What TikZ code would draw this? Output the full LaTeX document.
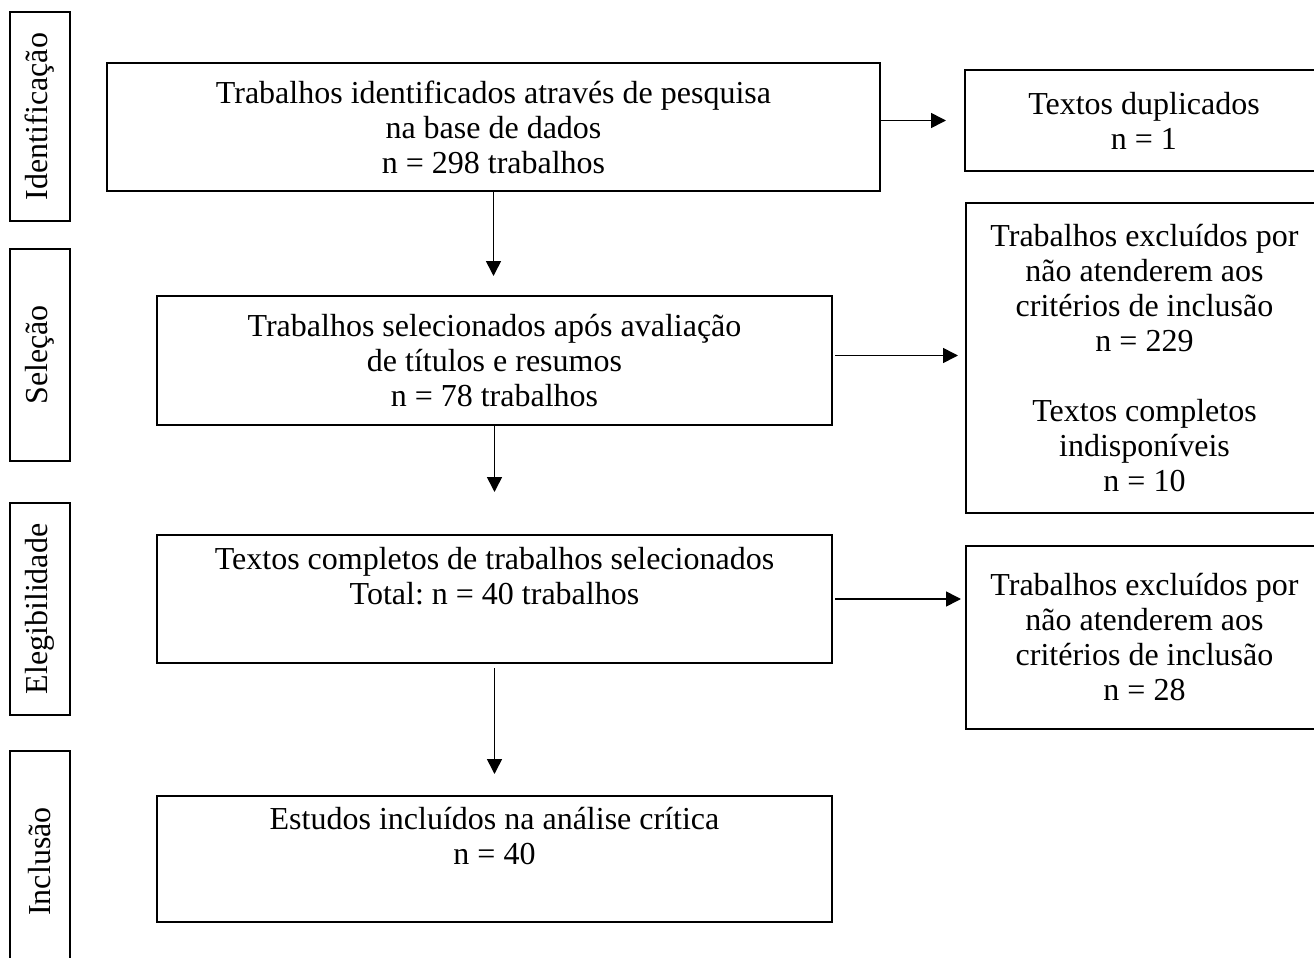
\documentclass[tikz,border=0pt]{standalone}
\usepackage{fontspec}
\setmainfont{Liberation Serif}
\usetikzlibrary{arrows.meta}
\begin{document}
\frenchspacing
\begin{tikzpicture}[x=0.5pt,y=-0.5pt,
  font=\fontsize{16}{17.5}\selectfont,
  box/.style={draw, line width=1pt, inner sep=0pt, align=center},
  side/.style={draw, line width=1pt, inner sep=0pt, rotate=90, minimum height=30pt},
  arr/.style={line width=0.8pt, -{Triangle[length=7.5pt,width=7.5pt]}}]
\useasboundingbox (0,0) rectangle (1314,958);
% side labels
\node[side, minimum width=104.5pt] (l1) at (40,116.5) {Identificação};
\node[side, minimum width=106pt] (l2) at (40,355) {Seleção};
\node[side, minimum width=106pt] (l3) at (40,609) {Elegibilidade};
\node[side, minimum width=110.5pt] (l4) at (40,861.5) {Inclusão};
% main column
\node[box, minimum width=386.5pt, minimum height=64pt] (b1) at (493.5,127)
  {Trabalhos identificados através de pesquisa\\ na base de dados\\ n = 298 trabalhos};
\node[box, minimum width=337.5pt, minimum height=64.5pt] (b2) at (494.5,360.5)
  {Trabalhos selecionados após avaliação\\ de títulos e resumos\\ n = 78 trabalhos};
\node[box, minimum width=337.5pt, minimum height=64pt] (b3) at (494.5,599)
  {Textos completos de trabalhos selecionados\\ Total: n = 40 trabalhos\\ \strut};
\node[box, minimum width=337.5pt, minimum height=63pt] (b4) at (494.5,859)
  {Estudos incluídos na análise crítica\\ n = 40\\ \strut};
% right column
\node[box, minimum width=179pt, minimum height=50.5pt] (r1) at (1144,120.5)
  {Textos duplicados\\ n = 1};
\node[box, minimum width=178.5pt, minimum height=155pt] (r2) at (1144.5,358)
  {Trabalhos excluídos por\\ não atenderem aos\\ critérios de inclusão\\ n = 229\\[17.5pt]
   Textos completos\\ indisponíveis\\ n = 10};
\node[box, minimum width=178.5pt, minimum height=91.5pt] (r3) at (1144.5,637.5)
  {Trabalhos excluídos por\\ não atenderem aos\\ critérios de inclusão\\ n = 28};
% vertical arrows
\draw[arr, shorten >=9.5pt] (b1.south) -- (b1.south |- b2.north);
\draw[arr, shorten >=21pt] (b2.south) -- (b2.south |- b3.north);
\draw[arr, shorten <=2pt, shorten >=10.5pt] (b3.south) -- (b3.south |- b4.north);
% horizontal arrows
\draw[arr, shorten >=9pt] (r1.west -| b1.east) -- (r1.west);
\draw[arr, shorten <=1pt, shorten >=3.5pt] ([yshift=2.5pt]b2.east) -- ([yshift=2.5pt]b2.east -| r2.west);
\draw[arr, shorten <=1pt, shorten >=2pt] (b3.east) -- (b3.east -| r3.west);
\end{tikzpicture}
\end{document}
